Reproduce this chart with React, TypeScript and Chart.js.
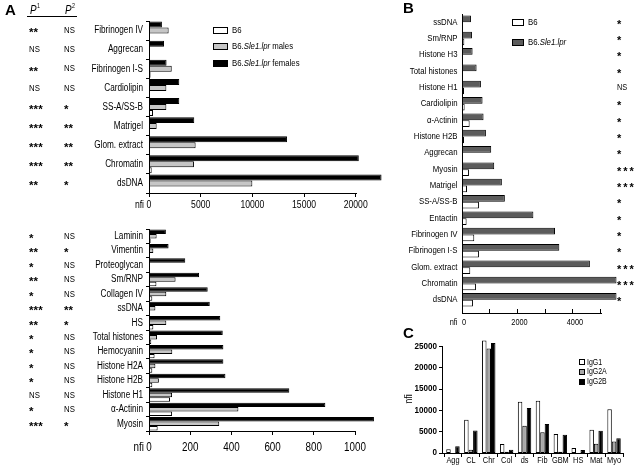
import React, { useEffect, useRef } from "react";
import { Chart, registerables } from "chart.js";
Chart.register(...registerables);

const W = 638;
const H = 467;
const SANS = "'Liberation Sans', Arial, Helvetica, sans-serif";
const SX = 0.82; // horizontal condensing to mimic the narrow face of the original

// ---------- Panel A (top) ----------
const aTopCats = ["Fibrinogen IV", "Aggrecan", "Fibrinogen I-S", "Cardiolipin", "SS-A/SS-B", "Matrigel", "Glom. extract", "Chromatin", "dsDNA"];
const aTopB6 = [0, 0, 150, 0, 390, 0, 0, 260, 0];
const aTopMales = [1900, 0, 2200, 1680, 1680, 740, 4510, 4350, 10000];
const aTopFemales = [1250, 1450, 1700, 2930, 2930, 4380, 13350, 20300, 22500];
const aTopP1 = ["**", "NS", "**", "NS", "***", "***", "***", "***", "**"];
const aTopP2 = ["NS", "NS", "NS", "NS", "*", "**", "**", "**", "*"];
const aTopTicks = [0, 5000, 10000, 15000, 20000];

// ---------- Panel A (bottom) ----------
const aBotCats = ["Laminin", "Vimentin", "Proteoglycan", "Sm/RNP", "Collagen IV", "ssDNA", "HS", "Total histones", "Hemocyanin", "Histone H2A", "Histone H2B", "Histone H1", "α-Actinin", "Myosin"];
const aBotB6 = [8, 0, 0, 36, 16, 0, 21, 11, 27, 16, 16, 102, 112, 42];
const aBotMales = [37, 21, 5, 129, 84, 31, 84, 39, 113, 31, 48, 112, 434, 341];
const aBotFemales = [82, 95, 176, 243, 285, 295, 346, 358, 361, 361, 371, 681, 856, 1092];
const aBotP1 = ["*", "**", "*", "**", "*", "***", "**", "*", "*", "*", "*", "NS", "*", "***"];
const aBotP2 = ["NS", "*", "NS", "NS", "NS", "**", "*", "NS", "NS", "NS", "NS", "NS", "NS", "*"];
const aBotTicks = [0, 200, 400, 600, 800, 1000];

// ---------- Panel B ----------
const bCats = ["ssDNA", "Sm/RNP", "Histone H3", "Total histones", "Histone H1", "Cardiolipin", "α-Actinin", "Histone H2B", "Aggrecan", "Myosin", "Matrigel", "SS-A/SS-B", "Entactin", "Fibrinogen IV", "Fibrinogen I-S", "Glom. extract", "Chromatin", "dsDNA"];
const bLpr = [323, 359, 382, 526, 682, 741, 777, 862, 1053, 1161, 1437, 1545, 2573, 3352, 3508, 4610, 5570, 5570];
const bB6 = [0, 83, 0, 36, 72, 95, 275, 72, 36, 251, 180, 611, 166, 442, 611, 298, 503, 395];
const bSig = ["*", "*", "*", "*", "NS", "*", "*", "*", "*", "***", "***", "*", "*", "*", "*", "***", "***", "*"];
const bTicks = [0, 1000, 2000, 3000, 4000, 5000];
const bTickLabels = ["0", "", "2000", "", "4000", ""];

// ---------- Panel C ----------
const cCats = ["Agg", "CL", "Chr", "Col", "ds", "Fib", "GBM", "HS", "Mat", "Myo"];
const cIgG1 = [900, 7800, 26400, 2110, 12040, 12270, 4460, 1170, 5470, 10230];
const cIgG2A = [0, 770, 24480, 300, 6410, 4840, 300, 0, 2180, 2720];
const cIgG2B = [1600, 5300, 25800, 780, 10560, 6800, 4300, 700, 5230, 3430];
const cTicks = [0, 5000, 10000, 15000, 20000, 25000];

const GRAY_A = "#c6c6c6";
const GRAY_B = "#5c5c5c";
const GRAY_C = "#a8a8a8";

type FO = { italic?: boolean; bold?: boolean; sx?: number };
function fnt(size: number, o: FO = {}) {
  return `${o.italic ? "italic " : ""}${o.bold ? "bold " : ""}${size}px ${SANS}`;
}
// condensed text
function txt(ctx: CanvasRenderingContext2D, s: string, x: number, y: number, size: number, align: CanvasTextAlign = "left", o: FO = {}) {
  ctx.save();
  ctx.translate(x, y);
  ctx.scale(o.sx ?? SX, 1);
  ctx.font = fnt(size, o);
  ctx.textAlign = align;
  ctx.textBaseline = "middle";
  ctx.fillStyle = "#000";
  ctx.fillText(s, 0, 0);
  ctx.restore();
}
function rich(ctx: CanvasRenderingContext2D, parts: Array<[string, boolean]>, x: number, y: number, size: number) {
  let cx = x;
  for (const [t, it] of parts) {
    txt(ctx, t, cx, y, size, "left", { italic: it });
    ctx.font = fnt(size, { italic: it });
    cx += ctx.measureText(t).width * SX;
  }
}
function sig(ctx: CanvasRenderingContext2D, s: string, x: number, cy: number, size: number, gap: number) {
  if (!s.startsWith("*")) {
    txt(ctx, s, x, cy, size);
    return;
  }
  const sz = size + 2;
  ctx.save();
  ctx.font = fnt(sz, { bold: true });
  ctx.textAlign = "left";
  ctx.textBaseline = "alphabetic";
  ctx.fillStyle = "#000";
  for (let i = 0; i < s.length; i++) ctx.fillText("*", x + i * gap, cy + 0.5 * sz);
  ctx.restore();
}
function hline(ctx: CanvasRenderingContext2D, x1: number, x2: number, y: number) {
  const yy = Math.floor(y) + 0.5;
  ctx.beginPath();
  ctx.moveTo(Math.round(x1), yy);
  ctx.lineTo(Math.round(x2) + 1, yy);
  ctx.stroke();
}
function vline(ctx: CanvasRenderingContext2D, x: number, y1: number, y2: number) {
  const xx = Math.floor(x) + 0.5;
  ctx.beginPath();
  ctx.moveTo(xx, Math.round(y1));
  ctx.lineTo(xx, Math.round(y2) + 1);
  ctx.stroke();
}
function box(ctx: CanvasRenderingContext2D, x: number, cy: number, w: number, h: number, fill: string) {
  const y = Math.round(cy - h / 2);
  ctx.fillStyle = fill;
  ctx.fillRect(Math.round(x), y, w, h);
  ctx.strokeStyle = "#000";
  ctx.lineWidth = 1;
  ctx.strokeRect(Math.round(x) + 0.5, y + 0.5, w - 1, h - 1);
}

type HOpts = {
  labels: string[];
  datasets: any[];
  catPct: number;
  left: number;
  top: number;
  right: number;
  bottom: number;
  xH: number;
  max: number;
  ticks: number[];
  draw: (chart: any) => void;
};

function hbar(o: HOpts): any {
  return {
    type: "bar",
    data: {
      labels: o.labels,
      datasets: o.datasets.map((d) => ({
        borderColor: "#000",
        borderWidth: 1,
        borderSkipped: false,
        barPercentage: 1,
        categoryPercentage: o.catPct,
        ...d,
      })),
    },
    options: {
      indexAxis: "y",
      responsive: false,
      maintainAspectRatio: false,
      animation: false,
      events: [],
      layout: { padding: { left: 0, top: o.top, right: W - o.right, bottom: H - o.bottom - o.xH } },
      plugins: { legend: { display: false }, tooltip: { enabled: false }, title: { display: false } },
      scales: {
        x: {
          type: "linear",
          position: "bottom",
          min: 0,
          max: o.max,
          afterBuildTicks: (s: any) => {
            s.ticks = o.ticks.map((v) => ({ value: v }));
          },
          afterFit: (s: any) => {
            s.height = o.xH;
          },
          grid: { display: false, drawTicks: false },
          border: { display: false },
          ticks: { display: false },
        },
        y: {
          type: "category",
          position: "left",
          offset: true,
          afterFit: (s: any) => {
            s.width = o.left;
          },
          grid: { display: false, drawTicks: false },
          border: { display: false },
          ticks: { display: false },
        },
      },
    },
    plugins: [{ id: "deco", afterDraw: o.draw }],
  };
}

function aTopConfig() {
  return hbar({
    labels: aTopCats,
    datasets: [
      { label: "B6.Sle1.lpr females", data: aTopFemales, backgroundColor: "#000" },
      { label: "B6.Sle1.lpr males", data: aTopMales, backgroundColor: GRAY_A },
      { label: "B6", data: aTopB6, backgroundColor: "#fff" },
    ],
    catPct: 0.94,
    left: 149,
    top: 21,
    right: 149 + 0.010335 * 22600,
    bottom: 193,
    xH: 20,
    max: 22600,
    ticks: aTopTicks,
    draw: (chart: any) => {
      const { ctx, chartArea: a, scales } = chart;
      const x = scales.x, y = scales.y;
      ctx.save();
      ctx.strokeStyle = "#000";
      ctx.lineWidth = 1;
      vline(ctx, a.left, a.top, a.bottom);
      const n = aTopCats.length;
      const ch = (a.bottom - a.top) / n;
      for (let i = 0; i <= n; i++) hline(ctx, a.left - 3, a.left, a.top + i * ch);
      hline(ctx, x.getPixelForValue(0), x.getPixelForValue(20000), a.bottom);
      for (const t of aTopTicks) {
        vline(ctx, x.getPixelForValue(t), a.bottom, a.bottom + 3);
        txt(ctx, String(t), x.getPixelForValue(t), 205.5, 10.5, "center");
      }
      txt(ctx, "nfi", 144, 205.5, 10.5, "right");
      aTopCats.forEach((c, i) => {
        const cy = y.getPixelForValue(i);
        txt(ctx, c, a.left - 6, cy, 10, "right");
        sig(ctx, aTopP1[i], 29, cy, 9.5, 4.6);
        sig(ctx, aTopP2[i], 64, cy, 9.5, 4.6);
      });
      // panel letter + header
      txt(ctx, "A", 5, 11, 15, "left", { bold: true, sx: 1 });
      txt(ctx, "P", 30, 10.5, 12, "left", { italic: true });
      txt(ctx, "1", 37, 6.5, 6.5, "left");
      txt(ctx, "P", 65, 10.5, 12, "left", { italic: true });
      txt(ctx, "2", 72, 6.5, 6.5, "left");
      ctx.strokeStyle = "#000";
      hline(ctx, 27, 76, 16);
      // legend
      const ly = [30.7, 46.7, 63];
      box(ctx, 213, ly[0], 15, 7, "#fff");
      box(ctx, 213, ly[1], 15, 7, GRAY_A);
      box(ctx, 213, ly[2], 15, 7, "#000");
      rich(ctx, [["B6", false]], 232, ly[0], 9.5);
      rich(ctx, [["B6.", false], ["Sle1.lpr", true], [" males", false]], 232, ly[1], 9.5);
      rich(ctx, [["B6.", false], ["Sle1.lpr", true], [" females", false]], 232, ly[2], 9.5);
      ctx.restore();
    },
  });
}

function aBotConfig() {
  return hbar({
    labels: aBotCats,
    datasets: [
      { label: "B6.Sle1.lpr females", data: aBotFemales, backgroundColor: "#000" },
      { label: "B6.Sle1.lpr males", data: aBotMales, backgroundColor: GRAY_A },
      { label: "B6", data: aBotB6, backgroundColor: "#fff" },
    ],
    catPct: 0.93,
    left: 149,
    top: 229,
    right: 149 + 0.206 * 1100,
    bottom: 431,
    xH: 20,
    max: 1100,
    ticks: aBotTicks,
    draw: (chart: any) => {
      const { ctx, chartArea: a, scales } = chart;
      const x = scales.x, y = scales.y;
      ctx.save();
      ctx.strokeStyle = "#000";
      ctx.lineWidth = 1;
      vline(ctx, a.left, a.top, a.bottom);
      const n = aBotCats.length;
      const ch = (a.bottom - a.top) / n;
      for (let i = 0; i <= n; i++) hline(ctx, a.left - 3, a.left, a.top + i * ch);
      hline(ctx, x.getPixelForValue(0), x.getPixelForValue(1000), a.bottom);
      for (const t of aBotTicks) {
        vline(ctx, x.getPixelForValue(t), a.bottom, a.bottom + 3);
        txt(ctx, String(t), x.getPixelForValue(t), 447.5, 12, "center");
      }
      txt(ctx, "nfi", 144, 447.5, 12, "right");
      aBotCats.forEach((c, i) => {
        const cy = y.getPixelForValue(i);
        txt(ctx, c, a.left - 6, cy, 10, "right");
        sig(ctx, aBotP1[i], 29, cy, 9.5, 4.6);
        sig(ctx, aBotP2[i], 64, cy, 9.5, 4.6);
      });
      ctx.restore();
    },
  });
}

function bConfig() {
  return hbar({
    labels: bCats,
    datasets: [
      { label: "B6.Sle1.lpr", data: bLpr, backgroundColor: GRAY_B },
      { label: "B6", data: bB6, backgroundColor: "#fff" },
    ],
    catPct: 0.83,
    left: 462,
    top: 14,
    right: 462 + 0.02774 * 5600,
    bottom: 308,
    xH: 14,
    max: 5600,
    ticks: bTicks,
    draw: (chart: any) => {
      const { ctx, chartArea: a, scales } = chart;
      const x = scales.x, y = scales.y;
      ctx.save();
      ctx.strokeStyle = "#000";
      ctx.lineWidth = 1;
      const axY = 313;
      vline(ctx, a.left, a.top, axY);
      hline(ctx, x.getPixelForValue(0), x.getPixelForValue(5000), axY);
      bTicks.forEach((t, i) => {
        vline(ctx, x.getPixelForValue(t), axY - 4, axY);
        if (bTickLabels[i]) txt(ctx, bTickLabels[i], x.getPixelForValue(t) + 2, 322.5, 9, "center");
      });
      txt(ctx, "nfi", 457.5, 322.5, 9, "right");
      bCats.forEach((c, i) => {
        const cy = y.getPixelForValue(i);
        txt(ctx, c, a.left - 4.5, cy, 9.5, "right");
        sig(ctx, bSig[i], 617, cy, 9, 6.2);
      });
      txt(ctx, "B", 403, 9, 15, "left", { bold: true, sx: 1 });
      box(ctx, 512, 22.7, 12, 7, "#fff");
      box(ctx, 512, 42.7, 12, 7, GRAY_B);
      rich(ctx, [["B6", false]], 528, 22.7, 9.5);
      rich(ctx, [["B6.", false], ["Sle1.lpr", true]], 528, 42.7, 9.5);
      ctx.restore();
    },
  });
}

function cConfig(): any {
  const left = 444;
  const right = left + 17.9 * 10;
  const bottom = 453;
  const top = bottom - 0.004266 * 26500;
  const xH = 14;
  return {
    type: "bar",
    data: {
      labels: cCats,
      datasets: [
        { label: "IgG1", data: cIgG1, backgroundColor: "#fff" },
        { label: "IgG2A", data: cIgG2A, backgroundColor: GRAY_C },
        { label: "IgG2B", data: cIgG2B, backgroundColor: "#000" },
      ].map((d) => ({ ...d, borderColor: "#000", borderWidth: 1, borderSkipped: false, barPercentage: 1, categoryPercentage: 0.75 })),
    },
    options: {
      responsive: false,
      maintainAspectRatio: false,
      animation: false,
      events: [],
      layout: { padding: { left: left - 75, top, right: W - right, bottom: Math.max(0, H - bottom - xH) } },
      plugins: { legend: { display: false }, tooltip: { enabled: false }, title: { display: false } },
      scales: {
        x: {
          type: "category",
          offset: true,
          afterFit: (s: any) => {
            s.height = xH;
          },
          grid: { display: false, drawTicks: false },
          border: { display: false },
          ticks: { display: false },
        },
        y: {
          type: "linear",
          min: 0,
          max: 26500,
          afterBuildTicks: (s: any) => {
            s.ticks = cTicks.map((v) => ({ value: v }));
          },
          afterFit: (s: any) => {
            s.width = 75;
          },
          grid: { display: false, drawTicks: false },
          border: { display: false },
          ticks: { display: false },
        },
      },
    },
    plugins: [
      {
        id: "decoC",
        afterDraw: (chart: any) => {
          const { ctx, chartArea: a, scales } = chart;
          const x = scales.x, y = scales.y;
          ctx.save();
          ctx.strokeStyle = "#000";
          ctx.lineWidth = 1;
          const yx = a.left - 2;
          vline(ctx, yx, y.getPixelForValue(25000), y.getPixelForValue(0));
          for (const t of cTicks) {
            hline(ctx, yx - 3, yx, y.getPixelForValue(t));
            txt(ctx, String(t), yx - 5, y.getPixelForValue(t), 8.5, "right", { bold: true, sx: 0.95 });
          }
          hline(ctx, yx, a.right, a.bottom);
          const cw = (a.right - a.left) / cCats.length;
          for (let i = 0; i <= cCats.length; i++) vline(ctx, a.left + i * cw, a.bottom, a.bottom + 3);
          cCats.forEach((c, i) => txt(ctx, c, x.getPixelForValue(i), 460.5, 9, "center"));
          ctx.save();
          ctx.translate(409, 399);
          ctx.rotate(-Math.PI / 2);
          txt(ctx, "nfi", 0, 0, 11, "center");
          ctx.restore();
          txt(ctx, "C", 403, 334, 15, "left", { bold: true, sx: 1 });
          const ly = [362.3, 372, 381.7];
          box(ctx, 579, ly[0], 6, 6, "#fff");
          box(ctx, 579, ly[1], 6, 6, GRAY_C);
          box(ctx, 579, ly[2], 6, 6, "#000");
          txt(ctx, "IgG1", 587, ly[0], 8.5);
          txt(ctx, "IgG2A", 587, ly[1], 8.5);
          txt(ctx, "IgG2B", 587, ly[2], 8.5);
          ctx.restore();
        },
      },
    ],
  };
}

function ChartCanvas({ make }: { make: () => any }) {
  const ref = useRef<HTMLCanvasElement>(null);
  useEffect(() => {
    const chart = new Chart(ref.current as HTMLCanvasElement, make());
    return () => chart.destroy();
  }, []);
  return (
    <canvas
      ref={ref}
      width={W}
      height={H}
      style={{ position: "absolute", left: 0, top: 0, width: W, height: H }}
    />
  );
}

export default function App() {
  return (
    <div style={{ position: "fixed", left: 0, top: 0, width: W, height: H, background: "#fff", overflow: "hidden" }}>
      <ChartCanvas make={aTopConfig} />
      <ChartCanvas make={aBotConfig} />
      <ChartCanvas make={bConfig} />
      <ChartCanvas make={cConfig} />
    </div>
  );
}
